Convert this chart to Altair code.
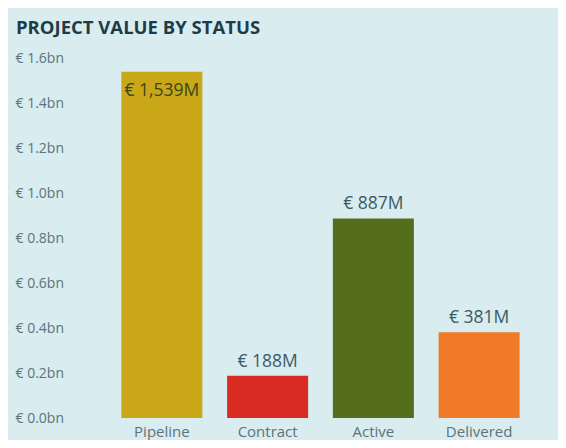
import altair as alt
import pandas as pd

statuses = ["Pipeline", "Contract", "Active", "Delivered"]
values_m = [1539, 188, 887, 381]
bar_colors = ["#c9a718", "#d92b22", "#556e1e", "#f07a27"]
tick_values_bn = [0.0, 0.2, 0.4, 0.6, 0.8, 1.0, 1.2, 1.4, 1.6]

df = pd.DataFrame({"status": statuses, "m": values_m})

base = alt.Chart(df).transform_calculate(
    bn="datum.m / 1000",
    label="'€ ' + format(datum.m, ',') + 'M'",
)

x = alt.X(
    "status:N",
    sort=statuses,
    title=None,
    scale=alt.Scale(paddingInner=0.234, paddingOuter=0.117),
    axis=alt.Axis(
        labelAngle=0, ticks=False, domain=False, labelPadding=6,
        labelFontSize=15, labelColor="#5d737a", labelFont="Open Sans",
    ),
)
y = alt.Y(
    "bn:Q",
    title=None,
    scale=alt.Scale(domain=[0, 1.6], nice=False),
    axis=alt.Axis(
        values=tick_values_bn, grid=False, ticks=False, tickSize=0, domain=False,
        labelAlign="left", labelPadding=94, labelFontSize=14,
        labelColor="#5d737a", labelFont="Open Sans",
        labelExpr="'€ ' + format(datum.value, '.1f') + 'bn'",
    ),
)

bars = base.mark_bar().encode(
    x=x,
    y=y,
    color=alt.Color("status:N", sort=statuses,
                    scale=alt.Scale(domain=statuses, range=bar_colors), legend=None),
)

outside = base.transform_filter("datum.m < 1450").mark_text(
    baseline="alphabetic", dy=-9, fontSize=17.5, font="Open Sans", fontWeight=500,
    color="#3d5a63",
).encode(x=x, y=y, text="label:N")

inside = base.transform_filter("datum.m >= 1450").mark_text(
    baseline="alphabetic", dy=24, fontSize=17.5, font="Open Sans", fontWeight=500,
    color="#3b4519",
).encode(x=x, y=y, text="label:N")

chart = alt.layer(bars, outside, inside).properties(
    width=423,
    height=360,
    background="#d9ecef",
    autosize=alt.AutoSizeParams(type="none"),
    padding={"left": 101, "top": 50, "right": 26, "bottom": 22},
    title=alt.TitleParams(
        "PROJECT VALUE BY STATUS", anchor="start", frame="bounds",
        font="Open Sans", fontSize=18.5, fontWeight="bold", color="#1c3d48",
        baseline="alphabetic", offset=-1, dx=1,
    ),
).configure_view(stroke=None)

chart.save("out.html", embed_options={"renderer": "svg", "actions": False})
